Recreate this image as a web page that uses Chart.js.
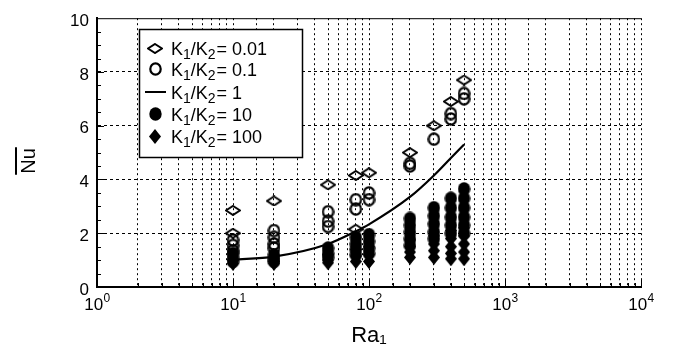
<!DOCTYPE html>
<html>
<head>
<meta charset="utf-8">
<script src="https://cdn.jsdelivr.net/npm/chart.js@4.4.0/dist/chart.umd.min.js"></script>
<style>
  html, body { margin: 0; padding: 0; background: #fff; }
  #wrap { width: 674px; height: 360px; }
</style>
</head>
<body>
<div id="wrap"><canvas id="chartNu" width="674" height="360"></canvas></div>
<script>
// Ra1 columns where the runs were made
const raValues = [10, 20, 50, 80, 100, 200, 300, 400, 500];
// Nu values per Ra column, one list per K1/K2 ratio
const nuK001 = [[2.85, 2.0], [3.2], [3.8], [4.15, 2.15], [4.25], [5.0], [6.0], [6.9], [7.7]];
const nuK01 = [[1.75, 1.55, 1.35], [2.1, 1.85, 1.6, 1.45], [2.8, 2.45, 2.25], [3.25, 2.9], [3.5, 3.25],
    [4.6, 4.5], [5.5], [6.45, 6.25], [7.2, 7.0]];
const nuK1 = [1.02, 1.13, 1.6, 2.07, 2.33, 3.35, 4.15, 4.8, 5.3];
const nuK10 = [[1.25, 1.1, 0.95], [1.2, 1.05, 0.95], [1.45, 1.25, 1.1], [1.85, 1.6, 1.4, 1.2],
    [1.95, 1.7, 1.45, 1.25], [2.55, 2.3, 2.05, 1.8, 1.55], [2.95, 2.65, 2.35, 2.05, 1.8],
    [3.3, 2.95, 2.6, 2.3, 2.0], [3.65, 3.3, 2.95, 2.6, 2.3, 2.0]];
const nuK100 = [[1.0, 0.88], [0.95, 0.88], [1.2, 1.0, 0.9], [1.4, 1.15, 0.95], [1.5, 1.2, 0.95],
    [1.75, 1.5, 1.3, 1.1], [1.9, 1.6, 1.35, 1.1], [2.1, 1.8, 1.5, 1.25, 1.05], [2.2, 1.9, 1.6, 1.3, 1.05]];
const ratioLabels = ['0.01', '0.1', '1', '10', '100'];
const decadeExps = [0, 1, 2, 3, 4];

const FONT = 'Liberation Sans, Arial, sans-serif';

// small canvases used as point styles (the reference markers are not square)
function makeMarker(kind) {
    const c = document.createElement('canvas');
    const sizes = {
        openDiamond: [16, 11],
        openCircle: [13, 14],
        filledCircle: [13, 14],
        filledDiamond: [12, 15]
    };
    const w = sizes[kind][0];
    const h = sizes[kind][1];
    c.width = w; c.height = h;
    const g = c.getContext('2d');
    g.strokeStyle = '#000';
    g.fillStyle = '#000';
    if (kind === 'openDiamond') {
        g.lineWidth = 2;
        g.beginPath();
        g.moveTo(w / 2, 1); g.lineTo(w - 1, h / 2); g.lineTo(w / 2, h - 1); g.lineTo(1, h / 2);
        g.closePath();
        g.stroke();
    } else if (kind === 'openCircle') {
        g.lineWidth = 2.2;
        g.beginPath();
        g.ellipse(w / 2, h / 2, w / 2 - 1.3, h / 2 - 1.3, 0, 0, Math.PI * 2);
        g.stroke();
    } else if (kind === 'filledCircle') {
        g.beginPath();
        g.ellipse(w / 2, h / 2, w / 2 - 0.3, h / 2 - 0.3, 0, 0, Math.PI * 2);
        g.fill();
    } else {
        g.beginPath();
        g.moveTo(w / 2, 0); g.lineTo(w, h / 2); g.lineTo(w / 2, h); g.lineTo(0, h / 2);
        g.closePath();
        g.fill();
    }
    return c;
}

const markers = {
    openDiamond: makeMarker('openDiamond'),
    openCircle: makeMarker('openCircle'),
    filledCircle: makeMarker('filledCircle'),
    filledDiamond: makeMarker('filledDiamond')
};

function toPoints(cols) {
    return raValues.flatMap((ra, i) => cols[i].map(v => ({ x: ra, y: v })));
}

function pointSet(label, cols, style) {
    return {
        label: label,
        data: toPoints(cols),
        pointStyle: markers[style],
        pointRadius: 7,
        showLine: false
    };
}

// K1/K2 = ... with subscripts
function drawRatioText(ctx, x, y, value) {
    const big = '18px ' + FONT;
    const small = '14px ' + FONT;
    const parts = [['K', big, 0], ['1', small, 4], ['/K', big, 0], ['2', small, 4], ['= ' + value, big, 0]];
    parts.forEach(function (p) {
        ctx.font = p[1];
        ctx.fillText(p[0], x, y + p[2]);
        x += ctx.measureText(p[0]).width + (p[0] === '2' ? 1 : 0);
    });
}

const decorations = {
    id: 'decorations',
    afterDraw(chart) {
        const ctx = chart.ctx;
        const area = chart.chartArea;
        const xs = chart.scales.x;
        const ys = chart.scales.y;
        ctx.save();
        ctx.strokeStyle = '#000';
        ctx.fillStyle = '#000';

        // top frame
        ctx.lineWidth = 1;
        ctx.beginPath();
        ctx.moveTo(area.left, area.top + 0.5);
        ctx.lineTo(area.right, area.top + 0.5);
        ctx.stroke();

        // inner ticks on the left axis (every 0.5)
        for (let v = 0.5; v < 10; v += 0.5) {
            const py = Math.round(ys.getPixelForValue(v)) + 0.5;
            const len = v % 2 === 0 ? 7 : 4;
            ctx.beginPath();
            ctx.moveTo(area.left, py);
            ctx.lineTo(area.left + len, py);
            ctx.stroke();
        }
        // inner ticks on the bottom axis
        xs.ticks.forEach(function (t) {
            const px = Math.round(xs.getPixelForValue(t.value)) + 0.5;
            const len = t.major ? 7 : 4;
            ctx.beginPath();
            ctx.moveTo(px, area.bottom);
            ctx.lineTo(px, area.bottom - len);
            ctx.stroke();
        });

        // decade labels 10^n under the x axis
        ctx.textBaseline = 'alphabetic';
        ctx.textAlign = 'left';
        decadeExps.forEach(function (e) {
            const px = xs.getPixelForValue(Math.pow(10, e));
            ctx.font = '17px ' + FONT;
            const wBase = ctx.measureText('10').width;
            ctx.font = '12px ' + FONT;
            const wExp = ctx.measureText(String(e)).width;
            const x0 = px - (wBase + wExp) / 2;
            ctx.font = '17px ' + FONT;
            ctx.fillText('10', x0, 310);
            ctx.font = '12px ' + FONT;
            ctx.fillText(String(e), x0 + wBase + 0.5, 302);
        });

        // y title: Nu with an overline
        ctx.translate(29, 161);
        ctx.rotate(-Math.PI / 2);
        ctx.font = '20px ' + FONT;
        ctx.textAlign = 'center';
        ctx.textBaseline = 'middle';
        ctx.fillText('Nu', 0, 0);
        const w = ctx.measureText('Nu').width;
        ctx.lineWidth = 2;
        ctx.beginPath();
        ctx.moveTo(-w / 2 - 1, -13);
        ctx.lineTo(w / 2 + 1, -13);
        ctx.stroke();
        ctx.restore();

        // legend box
        ctx.save();
        ctx.fillStyle = '#fff';
        ctx.fillRect(139, 29, 163, 128);
        ctx.strokeStyle = '#000';
        ctx.lineWidth = 1.5;
        ctx.strokeRect(139.5, 29.5, 163, 128);
        const rows = [48, 69, 92, 114, 136];
        const styles = ['openDiamond', 'openCircle', null, 'filledCircle', 'filledDiamond'];
        ctx.fillStyle = '#000';
        ctx.textAlign = 'left';
        ctx.textBaseline = 'alphabetic';
        rows.forEach(function (ry, i) {
            if (styles[i]) {
                const m = markers[styles[i]];
                ctx.drawImage(m, Math.round(155 - m.width / 2), Math.round(ry - m.height / 2));
            } else {
                ctx.lineWidth = 2;
                ctx.beginPath();
                ctx.moveTo(145, ry);
                ctx.lineTo(166, ry);
                ctx.stroke();
            }
            drawRatioText(ctx, 171, ry + 7, ratioLabels[i]);
        });
        ctx.restore();
    }
};

const nuConfig = {
    type: 'scatter',
    data: {
        datasets: [
            pointSet('K1/K2 = 0.01', nuK001, 'openDiamond'),
            pointSet('K1/K2 = 0.1', nuK01, 'openCircle'),
            {
                label: 'K1/K2 = 1',
                data: raValues.map((ra, i) => ({ x: ra, y: nuK1[i] })),
                showLine: true,
                borderColor: '#000',
                borderWidth: 2.2,
                pointRadius: 0,
                cubicInterpolationMode: 'monotone'
            },
            pointSet('K1/K2 = 10', nuK10, 'filledCircle'),
            pointSet('K1/K2 = 100', nuK100, 'filledDiamond')
        ]
    },
    options: {
        responsive: false,
        animation: false,
        events: [],
        layout: { padding: { left: 0, top: 12, right: 33, bottom: 0 } },
        plugins: {
            legend: { display: false },
            tooltip: { enabled: false }
        },
        scales: {
            x: {
                type: 'logarithmic',
                min: 1,
                max: 10000,
                afterFit: function (scale) { scale.height = 73; },
                grid: { color: '#000', lineWidth: 1, drawTicks: false },
                border: { display: true, color: '#000', width: 2, dash: [2, 3] },
                ticks: {
                    autoSkip: false,
                    maxRotation: 0,
                    // decade labels are drawn with real superscripts in the plugin
                    callback: function () { return ''; }
                },
                title: {
                    display: true,
                    text: 'Ra\u2081',
                    color: '#000',
                    font: { family: FONT, size: 22 },
                    padding: { top: 0, bottom: 11 }
                }
            },
            y: {
                min: 0,
                max: 10,
                afterFit: function (scale) { scale.width = 97; },
                grid: {
                    color: function (ctx) {
                        const v = ctx.tick ? ctx.tick.value : 0;
                        return (v > 0 && v < 10) ? '#000' : 'rgba(0,0,0,0)';
                    },
                    lineWidth: 1,
                    drawTicks: false
                },
                border: { display: true, color: '#000', width: 2, dash: [3, 3] },
                ticks: {
                    stepSize: 2,
                    color: '#000',
                    padding: 8,
                    labelOffset: 3,
                    font: { family: FONT, size: 17 }
                }
            }
        }
    },
    plugins: [decorations]
};

new Chart(document.getElementById('chartNu'), nuConfig);
</script>
</body>
</html>
